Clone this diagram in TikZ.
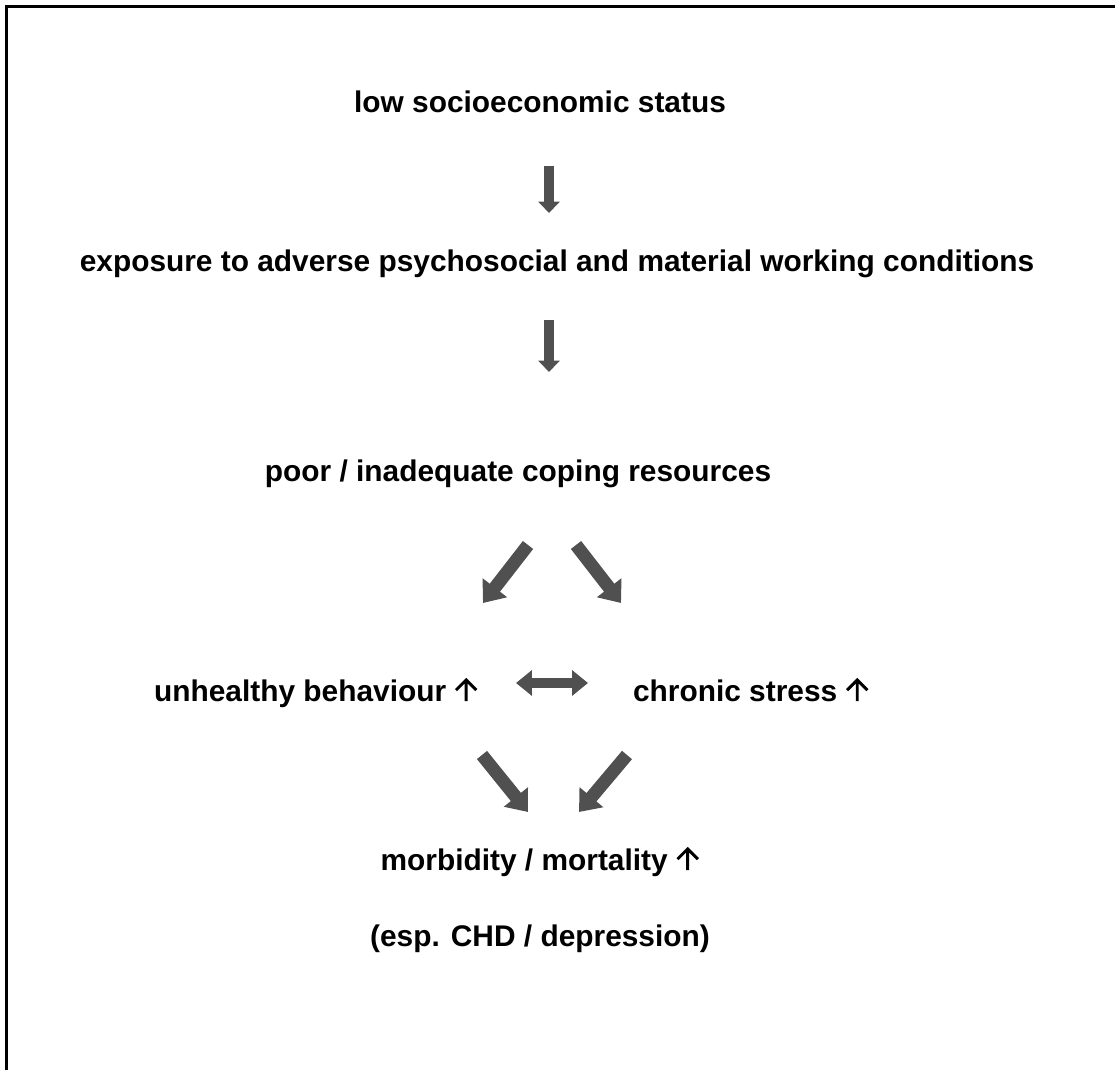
\documentclass[tikz,border=0pt]{standalone}
\usepackage{fontspec}
\setmainfont{Liberation Sans}
\usepackage{xcolor}
\usepackage{tikz}
\usetikzlibrary{arrows.meta}

\definecolor{arrowgray}{HTML}{505050}
% small "rising" arrow after a label
\newcommand{\upmark}{\tikz[baseline=0pt, line width=1.7pt]
    \draw (0,0) -- (0,12pt) (-5.8pt,6.2pt) -- (0,12pt) -- (5.8pt,6.2pt);}

\begin{document}
\begin{tikzpicture}[x=0.02cm, y=-0.02cm,
    txt/.style={font=\bfseries\fontsize{17}{20}\selectfont, inner sep=0pt},
    vblk/.style={draw=arrowgray, line width=6pt, -{Triangle[length=6.5pt, width=12pt]}},
    dblk/.style={draw=arrowgray, line width=7.4pt, -{Triangle[length=11pt, width=17pt]}},
    hblk/.style={draw=arrowgray, line width=5.2pt, {Triangle[length=9pt, width=14pt]}-{Triangle[length=9pt, width=14pt]}}]
    \useasboundingbox (0,0) rectangle (1115,1070);

    % Frame (top and left edge only)
    \draw[line width=1.7pt] (6.5,1070) -- (6.5,6.5) -- (1115,6.5);

    % Text blocks
    \node[txt] (ses) at (540,102) {low socioeconomic status};
    \node[txt] (expo) at (557,264) {exposure to adverse psychosocial and material working conditions};
    \node[txt] (cope) at (518,474) {poor / inadequate coping resources};
    \node[txt, anchor=base] (behav) at (316,701) {unhealthy behaviour \upmark};
    \node[txt, anchor=base] (stress) at (751,701) {chronic stress \upmark};
    \node[txt, anchor=base] (morb) at (540,870) {morbidity / mortality \upmark};
    \node[txt] (chd) at (540,939) {(esp. CHD / depression)};

    % Arrow ends
    \coordinate (a1s) at (549,166);  \coordinate (a1e) at (549,213);
    \coordinate (a2s) at (549,320);  \coordinate (a2e) at (549,372);
    \coordinate (a3s) at (528,545);  \coordinate (a3e) at (483,603);
    \coordinate (a4s) at (576,545);  \coordinate (a4e) at (621,603);
    \coordinate (a5s) at (516,683);  \coordinate (a5e) at (588,683);
    \coordinate (a6s) at (482,755);  \coordinate (a6e) at (528,812);
    \coordinate (a7s) at (627,755);  \coordinate (a7e) at (579,812);

    % Block arrows
    \draw[vblk] (a1s) -- (a1e);
    \draw[vblk] (a2s) -- (a2e);
    \draw[dblk] (a3s) -- (a3e);
    \draw[dblk] (a4s) -- (a4e);
    \draw[hblk] (a5s) -- (a5e);
    \draw[dblk] (a6s) -- (a6e);
    \draw[dblk] (a7s) -- (a7e);
\end{tikzpicture}
\end{document}
